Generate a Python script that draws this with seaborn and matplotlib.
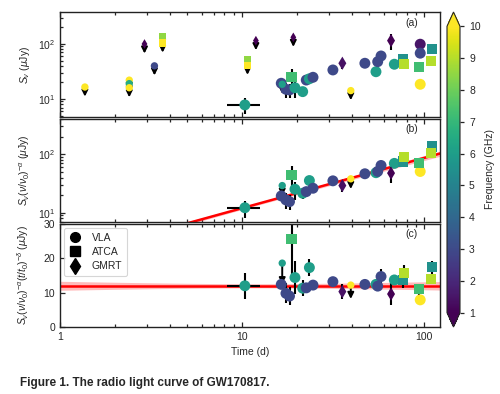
import numpy as np
import pandas as pd
import matplotlib
matplotlib.use("Agg")
import matplotlib.pyplot as plt
import seaborn as sns
from matplotlib.colors import Normalize
from matplotlib.lines import Line2D
from matplotlib.ticker import NullFormatter, FixedLocator, FuncFormatter, LogLocator
import matplotlib.cm as cm

nan = np.nan

# ---------------- detections ----------------
det_t = [10.35, 16.4, 17.4, 18.2, 18.7, 19.5, 21.5, 22.5, 23.4, 24.5, 31.5, 35.5,
         47.2, 54.3, 55.5, 57.9, 65.7, 68.5, 76.5, 77.5, 93.8, 95.0, 95.0, 95.0,
         110.0, 109.0]
det_freq = [6.0, 3.0, 3.0, 3.0, 7.25, 6.0, 6.0, 3.0, 6.0, 3.0, 3.0, 1.4,
            3.0, 6.0, 3.0, 3.0, 0.7, 6.0, 5.5, 9.0, 7.25, 15.0, 1.5, 3.0,
            5.5, 9.0]
det_inst = ["VLA", "VLA", "VLA", "VLA", "ATCA", "VLA", "VLA", "VLA", "VLA", "VLA", "VLA", "GMRT",
            "VLA", "VLA", "VLA", "VLA", "GMRT", "VLA", "ATCA", "ATCA", "ATCA", "VLA", "VLA", "VLA",
            "ATCA", "ATCA"]
det_Sa = [7.8, 19.3, 15.0, 14.6, 24.8, 16.0, 13.6, 22.1, 23.3, 24.8, 33.7, 44.6,
          44.6, 31.3, 47.7, 60.5, 115.0, 42.8, 52.0, 42.8, 38.6, 18.5, 99.0, 68.0,
          81.0, 49.0]
det_Sb = [12.2, 19.4, 16.6, 15.5, 44.7, 25.3, 21.6, 23.0, 35.6, 26.3, 35.2, 29.2,
          46.5, 48.5, 51.0, 64.5, 47.7, 70.0, 75.7, 90.0, 71.0, 50.9, nan, nan,
          137.0, 106.0]
det_Sc = [12.0, 12.4, 9.8, 9.0, 25.6, 14.4, 11.3, 11.4, 17.3, 12.2, 13.2, 10.3,
          12.4, 12.4, 11.9, 14.7, 9.6, 13.7, 13.7, 15.8, 11.0, 7.9, nan, nan,
          17.4, 14.0]
det_err = [0.32, 0.10, 0.30, 0.29, 0.42, 0.34, 0.21, 0.08, 0.15, 0.08, 0.07, 0.21,
           0.06, 0.06, 0.06, 0.14, 0.33, 0.06, 0.18, 0.14, 0.15, 0.10, 0.07, 0.07,
           0.11, 0.10]
# time uncertainty of the first (stacked) detection
xerr_idx = 0
xerr_lo = [8.3]
xerr_hi = [12.6]

# ---------------- upper limits ----------------
ul_t = [1.37, 2.4, 2.4, 2.4, 2.91, 3.3, 3.66, 3.66, 10.7, 10.7, 11.9, 16.6, 19.1, 39.5]
ul_freq = [10.0, 10.0, 6.5, 10.0, 0.7, 3.0, 8.5, 10.0, 8.5, 10.0, 0.7, 6.0, 0.7, 15.0]
ul_inst = ["VLA", "VLA", "VLA", "VLA", "GMRT", "VLA", "ATCA", "ATCA", "ATCA", "ATCA",
           "GMRT", "VLA", "GMRT", "VLA"]
ul_Sa = [16.5, 22.0, 19.0, 16.0, 100.0, 40.0, 135.0, 104.0, 53.0, 41.0, 115.0, 18.5, 132.0, 14.2]
ul_Sb = [nan, nan, nan, nan, nan, nan, nan, nan, nan, nan, nan, 29.2, nan, 38.1]
ul_Sc = [nan, nan, nan, nan, nan, nan, nan, nan, nan, nan, nan, 18.6, nan, 12.2]

# ---------------- model fit ----------------
fit_norm = 12.0      # uJy at t0
fit_t0 = 10.0        # days
fit_delta = 0.86
band_pivot = 12.0
band_floor = 0.05
band_slope = 0.09

panel_labels = ["(a)", "(b)", "(c)"]
ylabels = [r"$S_\nu$ ($\mu$Jy)",
           r"$S_\nu(\nu/\nu_0)^{-\alpha}$ ($\mu$Jy)",
           r"$S_\nu(\nu/\nu_0)^{-\alpha}(t/t_0)^{-\delta}$ ($\mu$Jy)"]
cbar_ticks = [1, 2, 3, 4, 5, 6, 7, 8, 9, 10]
inst_order = ["VLA", "ATCA", "GMRT"]
inst_marker = {"VLA": "o", "ATCA": "s", "GMRT": "d"}

# ------------------------------------------------------------------
sns.set_style("ticks")
plt.rcParams["font.family"] = ["Liberation Sans", "DejaVu Sans"]
plt.rcParams["mathtext.fontset"] = "custom"
plt.rcParams["mathtext.rm"] = "Liberation Sans"
plt.rcParams["mathtext.it"] = "Liberation Sans:italic"
plt.rcParams["mathtext.bf"] = "Liberation Sans:bold"
plt.rcParams["axes.linewidth"] = 1.0

det = pd.DataFrame(dict(t=det_t, freq=det_freq, inst=det_inst, a=det_Sa, b=det_Sb,
                        c=det_Sc, err=det_err))
ul = pd.DataFrame(dict(t=ul_t, freq=ul_freq, inst=ul_inst, a=ul_Sa, b=ul_Sb, c=ul_Sc))

norm = Normalize(vmin=1, vmax=10)
cmap = plt.get_cmap("viridis")

fig = plt.figure(figsize=(5.0, 3.94), dpi=100)
ax_a = fig.add_axes([0.12, 0.7030, 0.76, 0.2665])
ax_b = fig.add_axes([0.12, 0.4365, 0.76, 0.2627])
ax_c = fig.add_axes([0.12, 0.1701, 0.76, 0.2614])
cax = fig.add_axes([0.894, 0.1701, 0.026, 0.7994])
axes = [ax_a, ax_b, ax_c]
cols = ["a", "b", "c"]

tt = np.logspace(0, np.log10(130), 200)
band_frac = np.sqrt(band_floor ** 2 + (band_slope * np.log10(tt / band_pivot)) ** 2)

size_det = {"VLA": 62, "ATCA": 56, "GMRT": 46}
size_ul = {"VLA": 28, "ATCA": 26, "GMRT": 24}

for ax, col, lab, yl in zip(axes, cols, panel_labels, ylabels):
    ax.set_xscale("log")
    if col == "b":
        model = fit_norm * (tt / fit_t0) ** fit_delta
    elif col == "c":
        model = np.full_like(tt, fit_norm)
    if col in ("b", "c"):
        ax.fill_between(tt, model * (1 - band_frac), model * (1 + band_frac),
                        color="#ff3b3b", alpha=0.35, lw=0, zorder=1)
        ax.plot(tt, model, color="#ff0000", lw=1.8, zorder=2)

    d = det.dropna(subset=[col])
    ax.errorbar(d["t"], d[col], yerr=d[col] * d["err"], fmt="none", ecolor="k",
                elinewidth=1.5, capsize=0, zorder=2.5)
    if xerr_idx in d.index:
        r = d.loc[xerr_idx]
        ax.errorbar([r["t"]], [r[col]],
                    xerr=[[r["t"] - xerr_lo[0]], [xerr_hi[0] - r["t"]]],
                    fmt="none", ecolor="k", elinewidth=1.5, capsize=0, zorder=2.5)
    u = ul.dropna(subset=[col])
    for _, r in u.iterrows():
        ax.annotate("", xy=(r["t"], r[col] * 0.67), xytext=(r["t"], r[col]),
                    arrowprops=dict(arrowstyle="-|>", color="k", lw=1.4,
                                    mutation_scale=9, shrinkA=0, shrinkB=0),
                    zorder=2.6)
    for inst in inst_order:
        sub = d[d["inst"] == inst]
        if len(sub):
            sns.scatterplot(data=sub, x="t", y=col, hue="freq", palette="viridis",
                            hue_norm=norm, marker=inst_marker[inst],
                            s=size_det[inst], linewidth=0,
                            legend=False, ax=ax, zorder=3)
        subu = u[u["inst"] == inst]
        if len(subu):
            sns.scatterplot(data=subu, x="t", y=col, hue="freq", palette="viridis",
                            hue_norm=norm, marker=inst_marker[inst],
                            s=size_ul[inst], linewidth=0,
                            legend=False, ax=ax, zorder=3)

    ax.set_xlim(1, 122)
    ax.set_xlabel("")
    ax.set_ylabel(yl, fontsize=7.5)
    ax.yaxis.set_label_coords(-0.075, 0.5)
    ax.text(0.925, 0.90, lab, transform=ax.transAxes, fontsize=7.5,
            ha="center", va="center")
    ax.tick_params(which="both", direction="in", top=True, right=False,
                   labelsize=7.5, width=0.9)
    ax.tick_params(which="major", length=3.5)
    ax.tick_params(which="minor", length=2)
    ax.xaxis.set_minor_formatter(NullFormatter())
    for s in ax.spines.values():
        s.set_color("#222222")

ax_a.set_yscale("log")
ax_a.set_ylim(4.7, 381)
ax_b.set_yscale("log")
ax_b.set_ylim(6.95, 410)
for ax in (ax_a, ax_b):
    ax.yaxis.set_minor_formatter(NullFormatter())
    ax.yaxis.set_minor_locator(LogLocator(base=10, subs=np.arange(2, 10), numticks=20))
ax_c.set_ylim(0, 30)
ax_c.yaxis.set_major_locator(FixedLocator([0, 10, 20, 30]))

ax_a.tick_params(labelbottom=False)
ax_b.tick_params(labelbottom=False)
ax_c.xaxis.set_major_formatter(FuncFormatter(lambda v, p: f"{v:g}"))
ax_c.set_xlabel("Time (d)", fontsize=7.5)

handles = [Line2D([], [], marker=inst_marker[i], color="k", ls="none",
                  markersize=7 if i != "GMRT" else 8)
           for i in inst_order]
leg = ax_c.legend(handles, inst_order, loc="upper left", fontsize=7.5, frameon=True,
                  borderaxespad=0.35, handletextpad=1.0, labelspacing=0.4,
                  borderpad=0.5, handlelength=1.2)
leg.get_frame().set_edgecolor("#cccccc")
leg.get_frame().set_linewidth(0.8)

sm = cm.ScalarMappable(norm=norm, cmap=cmap)
cb = fig.colorbar(sm, cax=cax, extend="both", ticks=cbar_ticks)
cb.set_label("Frequency (GHz)", fontsize=7.5, labelpad=3)
cb.ax.tick_params(labelsize=7.5, direction="out", length=3, width=0.9)
cb.outline.set_linewidth(0.8)

fig.text(0.04, 0.028, "Figure 1. The radio light curve of GW170817.", fontsize=8.5,
         fontweight="bold", ha="left", va="center")

fig.savefig("out.png", dpi=100)
